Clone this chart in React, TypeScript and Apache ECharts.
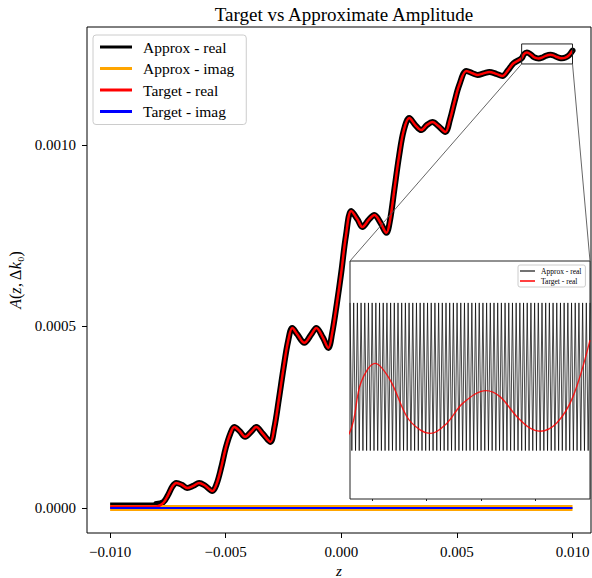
import React, { useEffect, useRef } from "react";
import * as echarts from "echarts";

const TITLE = "Target vs Approximate Amplitude";
const NAME_AR = "Approx - real";
const NAME_AI = "Approx - imag";
const NAME_TR = "Target - real";
const NAME_TI = "Target - imag";

const X_TICKS = [-0.01, -0.005, 0, 0.005, 0.01];
const Y_TICKS = [0, 0.0005, 0.001];
const INSET_X_TICKS = [0.008, 0.0085, 0.009, 0.0095];

// main curve knots (z, amplitude)
const zKnots = [
  -0.01, -0.009, -0.008, -0.0077, -0.0075, -0.0073, -0.00714, -0.0069, -0.00667, -0.0064,
  -0.00615, -0.0059, -0.00558, -0.0054, -0.0052, -0.005, -0.0048, -0.00463, -0.0044, -0.00416,
  -0.0039, -0.00368, -0.0034, -0.00307, -0.0029, -0.0027, -0.0025, -0.0023, -0.00212, -0.0019,
  -0.0016, -0.0013, -0.00108, -0.0008, -0.00056, -0.0004, -0.0002, 0.0, 0.0002, 0.00043,
  0.0007, 0.00091, 0.0012, 0.00143, 0.0017, 0.00195, 0.0021, 0.0023, 0.0025, 0.0027,
  0.00294, 0.0032, 0.00346, 0.0037, 0.00394, 0.0042, 0.0045, 0.0047, 0.0049, 0.0051,
  0.00541, 0.0057, 0.00589, 0.0062, 0.0064, 0.0067, 0.00697, 0.0072, 0.00745, 0.0078,
  0.0079, 0.00803, 0.008167, 0.00832, 0.008442, 0.00854, 0.008686, 0.008836, 0.009047, 0.009175,
  0.009328, 0.00945, 0.009542, 0.009695, 0.009844, 0.01,
];
const targetReal = [
  0.000004, 0.000004, 0.000004, 0.000014, 0.000035, 0.00006, 0.000069, 0.000064, 0.000055, 0.000061,
  0.000069, 0.000062, 0.000047, 0.000065, 0.00011, 0.000165, 0.000205, 0.000223, 0.000212, 0.000196,
  0.00021, 0.000223, 0.000205, 0.000182, 0.00022, 0.0003, 0.000385, 0.00046, 0.000496, 0.000478,
  0.000455, 0.000478, 0.000496, 0.00047, 0.000441, 0.00048, 0.00056, 0.00065, 0.00075, 0.000818,
  0.000795, 0.000774, 0.000795, 0.000807, 0.000785, 0.000758, 0.00079, 0.00088, 0.00097, 0.00104,
  0.001074, 0.001055, 0.001041, 0.001055, 0.001063, 0.001052, 0.001036, 0.00107, 0.00112, 0.001165,
  0.001204, 0.001197, 0.001193, 0.001198, 0.001201, 0.001196, 0.00119, 0.001205, 0.001225, 0.0012388,
  0.0012501, 0.0012546, 0.0012508, 0.0012423, 0.0012392, 0.0012384, 0.0012407, 0.0012454, 0.0012483, 0.0012469,
  0.0012423, 0.0012396, 0.0012389, 0.0012408, 0.0012469, 0.00126,
];
// the approximation's band follows the target, except on the flat start where it sits a little higher
const approxRealHead = [0.000011, 0.000011, 0.000011, 0.000016];
const approxReal = [...approxRealHead, ...targetReal.slice(approxRealHead.length)];

const imagZ = [-0.01, 0.01];
const approxImag = [0, 0];
const targetImag = [0, 0];

// inset: fast oscillation of the approximation (evenly spaced samples)
const INSET_Z_MIN = 0.0078;
const INSET_Z_MAX = 0.01;
const INSET_A_MIN = 0.0012232;
const INSET_A_MAX = 0.0012783;
const insetApprox = [
  0.0012686, 0.0012344, 0.0012686, 0.0012344, 0.0012686, 0.0012344, 0.0012686, 0.0012344,
  0.0012686, 0.0012344, 0.0012686, 0.0012344, 0.0012686, 0.0012344, 0.0012686, 0.0012344,
  0.0012686, 0.0012344, 0.0012686, 0.0012344, 0.0012686, 0.0012344, 0.0012686, 0.0012344,
  0.0012686, 0.0012344, 0.0012686, 0.0012344, 0.0012686, 0.0012344, 0.0012686, 0.0012344,
  0.0012686, 0.0012344, 0.0012686, 0.0012344, 0.0012686, 0.0012344, 0.0012686, 0.0012344,
  0.0012686, 0.0012344, 0.0012686, 0.0012344, 0.0012686, 0.0012344, 0.0012686, 0.0012344,
  0.0012686, 0.0012344, 0.0012686, 0.0012344, 0.0012686, 0.0012344, 0.0012686, 0.0012344,
  0.0012686, 0.0012344, 0.0012686, 0.0012344, 0.0012686, 0.0012344, 0.0012686, 0.0012344,
  0.0012686, 0.0012344, 0.0012686, 0.0012344, 0.0012686, 0.0012344, 0.0012686, 0.0012344,
  0.0012686, 0.0012344, 0.0012686, 0.0012344, 0.0012686, 0.0012344, 0.0012686, 0.0012344,
  0.0012686, 0.0012344, 0.0012686, 0.0012344, 0.0012686, 0.0012344, 0.0012686, 0.0012344,
  0.0012686, 0.0012344, 0.0012686, 0.0012344, 0.0012686, 0.0012344, 0.0012686, 0.0012344,
  0.0012686, 0.0012344, 0.0012686, 0.0012344, 0.0012686, 0.0012344, 0.0012686, 0.0012344,
  0.0012686, 0.0012344, 0.0012686, 0.0012344, 0.0012686, 0.0012344, 0.0012686, 0.0012344,
  0.0012686, 0.0012344, 0.0012686, 0.0012344, 0.0012686, 0.0012344, 0.0012686, 0.0012344,
  0.0012686, 0.0012344, 0.0012686, 0.0012344, 0.0012686, 0.0012344, 0.0012686, 0.0012344,
  0.0012686, 0.0012344, 0.0012686,
];

const FONT = "Liberation Serif";

const zip = (xs: number[], ys: number[]) => xs.map((x, i) => [x, ys[i]]);
const minus = (s: string) => s.replace("-", "\u2212");

export default function App() {
  const ref = useRef<HTMLDivElement>(null);
  useEffect(() => {
    if (!ref.current) return;
    const chart = echarts.init(ref.current, undefined, { renderer: "svg" });
    const step = (INSET_Z_MAX - INSET_Z_MIN) / (insetApprox.length - 1);
    const insetData = insetApprox.map((v, i) => [INSET_Z_MIN + i * step, v]);

    const option: any = {
      animation: false,
      backgroundColor: "#fff",
      title: {
        text: TITLE,
        left: 339,
        top: 0,
        textAlign: "center",
        textStyle: { fontFamily: FONT, fontSize: 19, fontWeight: "normal", color: "#000" },
      },
      grid: [
        {
          left: 87, top: 27, right: 1, bottom: 45, show: true, borderColor: "#000", borderWidth: 1,
          backgroundColor: "transparent", outerBoundsMode: "none", containLabel: false,
        },
        {
          left: 350, top: 261, right: 2, bottom: 79, show: true, borderColor: "#222", borderWidth: 1,
          backgroundColor: "#fff", z: 5, outerBoundsMode: "none", containLabel: false,
        },
      ],
      legend: [
        {
          orient: "vertical",
          left: 93,
          top: 35,
          padding: [4, 12, 5, 7],
          itemWidth: 32,
          itemHeight: 3,
          itemGap: 5.5,
          icon: "rect",
          borderColor: "#cccccc",
          borderWidth: 1,
          borderRadius: 3,
          backgroundColor: "rgba(255,255,255,0.8)",
          textStyle: { fontFamily: FONT, fontSize: 15.5, lineHeight: 16, color: "#000", padding: [0, 0, 0, 6] },
          data: [
            { name: NAME_AR, itemStyle: { color: "#000" } },
            { name: NAME_AI, itemStyle: { color: "#FFA500" } },
            { name: NAME_TR, itemStyle: { color: "#FF0000" } },
            { name: NAME_TI, itemStyle: { color: "#0000FF" } },
          ],
          selectedMode: false,
        },
        {
          orient: "vertical",
          left: 518,
          top: 265,
          padding: [2, 4, 2, 2],
          itemWidth: 15,
          itemHeight: 1.5,
          itemGap: 2,
          icon: "rect",
          borderColor: "#cccccc",
          borderWidth: 1,
          borderRadius: 2,
          backgroundColor: "rgba(255,255,255,0.8)",
          z: 10,
          textStyle: { fontFamily: FONT, fontSize: 7.5, lineHeight: 8, color: "#000", padding: [0, 0, 0, 1] },
          data: [
            { name: NAME_AR, itemStyle: { color: "#444" } },
            { name: NAME_TR, itemStyle: { color: "#FF0000" } },
          ],
          selectedMode: false,
        },
      ],
      xAxis: [
        {
          type: "value",
          gridIndex: 0,
          min: -0.011,
          max: 0.0108,
          splitLine: { show: false },
          axisLine: { show: false, onZero: false },
          axisTick: { show: true, customValues: X_TICKS, length: 5, lineStyle: { color: "#000" } },
          axisLabel: {
            customValues: X_TICKS,
            margin: 11,
            fontFamily: FONT,
            fontSize: 15,
            color: "#000",
            formatter: (v: number) => minus(v.toFixed(3)),
          },
          name: "z",
          nameLocation: "middle",
          nameGap: 25,
          nameTextStyle: { fontFamily: FONT, fontSize: 15, fontStyle: "italic", color: "#000" },
        },
        {
          type: "value",
          gridIndex: 1,
          min: INSET_Z_MIN,
          max: INSET_Z_MAX,
          splitLine: { show: false },
          axisLine: { show: false, onZero: false },
          axisTick: { show: true, customValues: INSET_X_TICKS, length: 2, lineStyle: { color: "#222" } },
          axisLabel: { show: false },
        },
      ],
      yAxis: [
        {
          type: "value",
          gridIndex: 0,
          min: -0.0000689,
          max: 0.001325,
          splitLine: { show: false },
          axisLine: { show: false, onZero: false },
          axisTick: { show: true, customValues: Y_TICKS, length: 5, lineStyle: { color: "#000" } },
          axisLabel: {
            customValues: Y_TICKS,
            margin: 11,
            fontFamily: FONT,
            fontSize: 15,
            color: "#000",
            formatter: (v: number) => minus(v.toFixed(4)),
          },
          name: "{i|A}{n|(}{i|z}{n|, \u0394}{i|k}{n|\u2080)}",
          nameLocation: "middle",
          nameGap: 58,
          nameTextStyle: {
            color: "#000",
            rich: {
              i: { fontFamily: FONT, fontSize: 16, fontStyle: "italic", color: "#000" },
              n: { fontFamily: FONT, fontSize: 16, color: "#000" },
            },
          },
        },
        {
          type: "value",
          gridIndex: 1,
          min: INSET_A_MIN,
          max: INSET_A_MAX,
          splitLine: { show: false },
          axisLine: { show: false, onZero: false },
          axisTick: { show: false },
          axisLabel: { show: false },
        },
      ],
      series: [
        {
          name: NAME_AR,
          type: "line",
          xAxisIndex: 0,
          yAxisIndex: 0,
          data: zip(zKnots.slice(0, 3), approxReal.slice(0, 3)),
          showSymbol: false,
          lineStyle: { color: "#000", width: 3 },
          itemStyle: { color: "#000" },
          silent: true,
        },
        {
          name: NAME_AR,
          type: "line",
          xAxisIndex: 0,
          yAxisIndex: 0,
          data: zip(zKnots.slice(2), approxReal.slice(2)),
          showSymbol: false,
          smooth: 0.35,
          lineStyle: { color: "#000", width: 6, join: "round", cap: "round" },
          itemStyle: { color: "#000" },
          silent: true,
        },
        {
          name: NAME_AI,
          type: "line",
          xAxisIndex: 0,
          yAxisIndex: 0,
          data: zip(imagZ, approxImag),
          showSymbol: false,
          lineStyle: { color: "#FFA500", width: 6 },
          itemStyle: { color: "#FFA500" },
          silent: true,
        },
        {
          name: NAME_TR,
          type: "line",
          xAxisIndex: 0,
          yAxisIndex: 0,
          data: zip(zKnots, targetReal),
          showSymbol: false,
          smooth: 0.35,
          lineStyle: { color: "#FF0000", width: 2.5, join: "round" },
          itemStyle: { color: "#FF0000" },
          silent: true,
        },
        {
          name: NAME_TI,
          type: "line",
          xAxisIndex: 0,
          yAxisIndex: 0,
          data: zip(imagZ, targetImag),
          showSymbol: false,
          lineStyle: { color: "#0000FF", width: 2.2 },
          itemStyle: { color: "#0000FF" },
          silent: true,
        },
        {
          name: NAME_AR,
          type: "line",
          xAxisIndex: 1,
          yAxisIndex: 1,
          data: insetData,
          showSymbol: false,
          clip: true,
          z: 6,
          lineStyle: { color: "#000", width: 0.9, opacity: 0.8 },
          itemStyle: { color: "#444" },
          silent: true,
        },
        {
          name: NAME_TR,
          type: "line",
          xAxisIndex: 1,
          yAxisIndex: 1,
          data: zip(zKnots, targetReal),
          showSymbol: false,
          clip: true,
          smooth: 0.35,
          z: 7,
          lineStyle: { color: "#FF0000", width: 1.4, opacity: 0.85 },
          itemStyle: { color: "#FF0000" },
          silent: true,
        },
      ],
    };
    chart.setOption(option);

    const m = { xAxisIndex: 0, yAxisIndex: 0 };
    const ins = { xAxisIndex: 1, yAxisIndex: 1 };
    const r1 = chart.convertToPixel(m, [INSET_Z_MIN, INSET_A_MAX]) as number[];
    const r2 = chart.convertToPixel(m, [INSET_Z_MAX, INSET_A_MIN]) as number[];
    const i1 = chart.convertToPixel(ins, [INSET_Z_MIN, INSET_A_MAX]) as number[];
    const i2 = chart.convertToPixel(ins, [INSET_Z_MAX, INSET_A_MAX]) as number[];
    chart.setOption({
      graphic: [
        {
          type: "rect",
          z: 20,
          shape: { x: r1[0], y: r1[1], width: r2[0] - r1[0], height: r2[1] - r1[1] },
          style: { fill: "none", stroke: "#222", lineWidth: 1 },
          silent: true,
        },
        {
          type: "line",
          z: 20,
          shape: { x1: r1[0], y1: r2[1], x2: i1[0], y2: i1[1] },
          style: { stroke: "#555", lineWidth: 0.9 },
          silent: true,
        },
        {
          type: "line",
          z: 20,
          shape: { x1: r2[0], y1: r2[1], x2: i2[0], y2: i2[1] },
          style: { stroke: "#555", lineWidth: 0.9 },
          silent: true,
        },
      ],
    });

    return () => chart.dispose();
  }, []);
  return (
    <div
      ref={ref}
      style={{ position: "fixed", left: 0, top: 0, width: 592, height: 578, background: "#fff" }}
    />
  );
}
